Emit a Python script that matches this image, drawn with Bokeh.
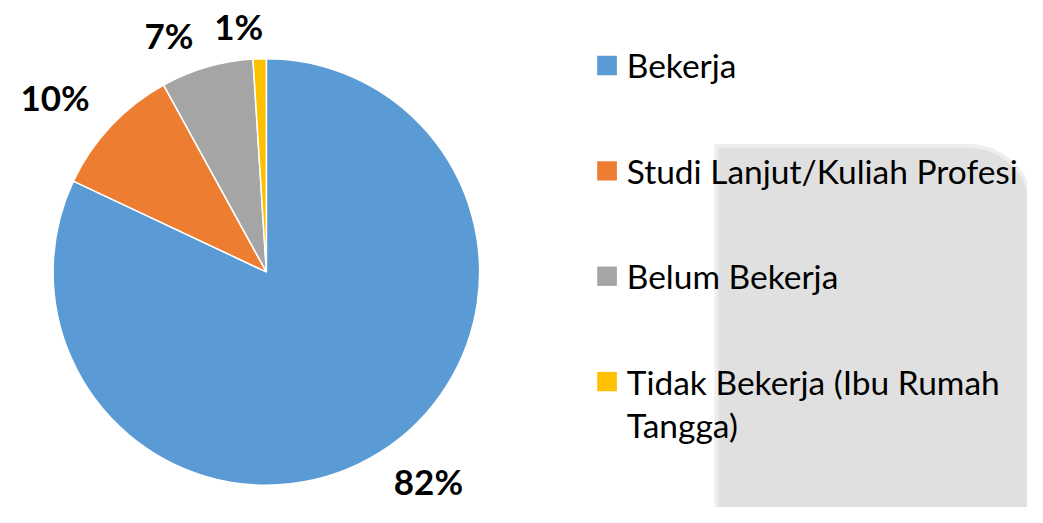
import numpy as np
from bokeh.plotting import figure
from bokeh.models import Range1d
from bokeh.core.properties import value
from bokeh.embed import file_html
from bokeh.resources import INLINE

# ---------------- data ----------------
categories = ["Bekerja", "Studi Lanjut/Kuliah Profesi", "Belum Bekerja",
              "Tidak Bekerja (Ibu Rumah Tangga)"]
legend_lines = [["Bekerja"], ["Studi Lanjut/Kuliah Profesi"], ["Belum Bekerja"],
                ["Tidak Bekerja (Ibu Rumah", "Tangga)"]]
percents = [82, 10, 7, 1]
colors = ["#5B9BD5", "#ED7D31", "#A5A5A5", "#FFC000"]

# ---------------- layout / style ----------------
W, H = 1027, 507
IMG_W, IMG_H = 1043, 523
FONT = "Lato"


def Y(img_y):
    return IMG_H - img_y


cx, cy, R = 270, Y(280), 220
label_angle_nudge = [5.0, 3.2, 5.8, 4.5]      # degrees
label_dist = [271, 280, 264, 255]
legend_x_sq, legend_x_txt = 616, 636
legend_y0, legend_dy, legend_line_h = 67, 108.7, 45

# whole reference frame (0..1043 x 0..523) fitted into the figure
p = figure(width=W, height=H, output_backend="svg", toolbar_location=None,
           x_range=Range1d(0, IMG_W), y_range=Range1d(0, IMG_H),
           min_border=0)
p.axis.visible = False
p.grid.visible = False
p.outline_line_color = None
p.background_fill_color = "white"
p.border_fill_color = "white"

# decorative grey panel at lower right (rounded top-right corner)
left, top, right, bottom, rad = 729, 152, 1045, 525, 62
th = np.linspace(np.pi / 2, 0, 30)
xs = [left] + list(right - rad + rad * np.cos(th)) + [right, left]
ys = [top] + list(top + rad - rad * np.sin(th)) + [bottom, bottom]
xs_s = [left - 4] + list(right - rad + (rad + 4) * np.cos(th)) + [right, left - 4]
ys_s = [top - 4] + list(top + rad - (rad + 4) * np.sin(th)) + [bottom, bottom]
p.patch(xs_s, [Y(v) for v in ys_s], fill_color="#EEEEEE", line_color=None)
p.patch(xs, [Y(v) for v in ys], fill_color="#E1E0E1", line_color=None)

# pie (radius in screen units so it stays circular)
frac = np.array(percents, dtype=float) / sum(percents)
cum = np.cumsum(frac)
start = np.pi / 2 - 2 * np.pi * (cum - frac)
end = np.pi / 2 - 2 * np.pi * cum
p.wedge(x=cx, y=cy, radius=R * H / IMG_H, radius_units="screen",
        start_angle=list(start), end_angle=list(end),
        direction="clock", fill_color=colors, line_color="white", line_width=1.5)

# percentage labels
mid = (start + end) / 2
ang = mid + np.radians(label_angle_nudge)
lx = cx + np.array(label_dist) * np.cos(ang)
ly = cy + np.array(label_dist) * np.sin(ang)
p.text(x=list(lx), y=list(ly), text=[f"{v}%" for v in percents],
       text_font=value(FONT), text_font_style="bold", text_font_size="35px",
       text_align="center", text_baseline="middle", text_color="#000000")

# legend
for i, (lines, c) in enumerate(zip(legend_lines, colors)):
    ry = legend_y0 + i * legend_dy
    p.rect(x=[legend_x_sq], y=[Y(ry)], width=20, height=20,
           fill_color=c, line_color=None)
    for j, t in enumerate(lines):
        p.text(x=[legend_x_txt], y=[Y(ry + j * legend_line_h)], text=[t],
               text_font=value(FONT), text_font_size="33.5px",
               text_align="left", text_baseline="middle", text_color="#000000")

open("out.html", "w").write(file_html(p, INLINE))
